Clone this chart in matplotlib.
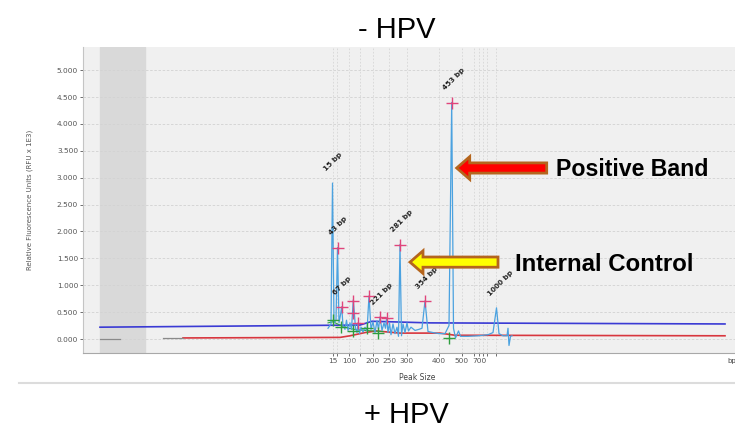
import matplotlib
matplotlib.use("Agg")
import matplotlib.pyplot as plt
from matplotlib.patches import FancyArrow

# size ladder (scan position -> bp label), "" = unlabeled tick
ladder_pos = [250, 254, 266, 277, 290, 306, 324, 356, 379, 391, 396, 400, 404, 413]
ladder_lbl = ["15", "", "100", "", "200", "250", "300", "400", "500", "", "700", "", "", ""]

# called peaks
called_lbl = ["15 bp", "43 bp", "67 bp", "221 bp", "281 bp", "354 bp", "453 bp", "1000 bp"]
called_pos = [249.5, 254.5, 258.7, 297, 317, 342, 368.7, 413.5]
called_rfu = [2.90, 1.70, 0.60, 0.41, 1.76, 0.71, 4.40, 0.58]

# uncalled peaks in the sample trace
extra_pos = [270.3, 286, 303.7]
extra_rfu = [0.73, 0.80, 0.40]

# sample trace baseline/noise points between peaks
noise_pos = [245, 248, 251, 253, 256, 257.5, 260, 262, 263.5, 265, 267, 268.5, 271.5,
             272.5, 274, 275, 276.5, 278, 280, 282, 284, 288, 290, 292, 294, 295.5,
             299, 301, 302.5, 305, 306.5, 308, 310, 312, 314, 315.5, 318.5, 320, 322,
             324, 325.5, 328, 332, 336, 339, 345, 350, 356, 362, 366, 370.5, 372.5,
             375.5, 377.5, 385, 395, 405, 410, 416, 420, 424, 425, 426, 427.5, 429]
noise_rfu = [0.20, 0.28, 0.30, 0.35, 0.30, 0.45, 0.25, 0.18, 0.35, 0.16, 0.30, 0.18, 0.45,
             0.20, 0.12, 0.30, 0.10, 0.22, 0.13, 0.22, 0.15, 0.18, 0.32, 0.12, 0.34, 0.18,
             0.16, 0.30, 0.20, 0.12, 0.30, 0.08, 0.28, 0.10, 0.22, 0.05, 0.06, 0.28, 0.12,
             0.30, 0.15, 0.22, 0.16, 0.18, 0.20, 0.14, 0.12, 0.10, 0.10, 0.25, 0.20, 0.02,
             0.15, 0.05, 0.05, 0.06, 0.08, 0.12, 0.10, 0.06, 0.06, 0.20, -0.12, 0.05, 0.06]

# peak markers
pink_pos = [254.5, 258.7, 270.3, 270.3, 275, 286, 297, 303.7, 317, 342, 368.7]
pink_rfu = [1.70, 0.60, 0.71, 0.49, 0.30, 0.80, 0.41, 0.39, 1.75, 0.71, 4.39]
green_pos = [250, 258, 270, 284, 295, 366]
green_rfu = [0.35, 0.23, 0.15, 0.20, 0.12, 0.02]

# green channel trace
green_trace_pos = [245, 250, 258, 265, 275, 290, 300]
green_trace_rfu = [0.30, 0.32, 0.25, 0.20, 0.17, 0.15, 0.14]

# baselines
blue_pos = [17, 277, 289, 347, 642]
blue_rfu = [0.22, 0.26, 0.33, 0.30, 0.28]
red_pos = [100, 257, 267, 282, 293, 317, 357, 372, 642]
red_rfu = [0.02, 0.03, 0.06, 0.12, 0.15, 0.11, 0.11, 0.07, 0.06]
gray_pos = [[17, 37], [80, 100]]
gray_rfu = [[0.0, 0.0], [0.02, 0.02]]

W, H = 735, 433
fig = plt.figure(figsize=(W / 100, H / 100), dpi=100)
ax = fig.add_axes([83 / W, 1 - 353 / H, (W - 83) / W, (353 - 47) / H])
ax.set_facecolor("#f0f0f0")
ax.set_xlim(0, 652)
ax.set_ylim(-0.26, 5.43)

ax.axvspan(17, 62, color="#d9d9d9", zorder=0)

# grid
yt = [i * 0.5 for i in range(11)]
for v in yt:
    ax.axhline(v, color="#d2d2d2", lw=0.6, ls=(0, (3, 2)), zorder=0.5)
for p in ladder_pos:
    ax.axvline(p, color="#d6d6d6", lw=0.6, ls=(0, (2, 2)), zorder=0.5)

# traces
trace = sorted(zip(noise_pos + called_pos + extra_pos, noise_rfu + called_rfu + extra_rfu))
ax.plot([t[0] for t in trace], [t[1] for t in trace], color="#4ba2e0", lw=0.9, zorder=3)
ax.plot(green_trace_pos, green_trace_rfu, color="#2ea043", lw=0.8, zorder=2.5)
ax.plot(blue_pos, blue_rfu, color="#3a3ad4", lw=1.2, zorder=2)
ax.plot(red_pos, red_rfu, color="#d8363e", lw=1.2, zorder=2)
for gx, gy in zip(gray_pos, gray_rfu):
    ax.plot(gx, gy, color="#8a8a8a", lw=0.9, zorder=2)

ax.plot(pink_pos, pink_rfu, ls="none", marker="+", ms=8, mew=1.0, color="#e0457b", zorder=4)
ax.plot(green_pos, green_rfu, ls="none", marker="+", ms=8, mew=1.0, color="#2e9e3e", zorder=4)

for lbl, p, r in zip(called_lbl, called_pos, called_rfu):
    ax.annotate(lbl, (p, r), xytext=(-4, 8), textcoords="offset points", rotation=45,
                rotation_mode="anchor", ha="left", va="bottom", fontsize=5.2,
                fontweight="bold", color="#222222", zorder=5)

# axes styling
ax.set_yticks(yt)
ax.set_yticklabels([f"{v:.3f}" for v in yt])
ax.set_xticks(ladder_pos)
ax.set_xticklabels(ladder_lbl)
ax.tick_params(axis="both", labelsize=5.3, colors="#555555", length=2, width=0.6, pad=1.5)
for s in ["top", "right"]:
    ax.spines[s].set_visible(False)
ax.spines["left"].set_color("#c4c4c4")
ax.spines["bottom"].set_color("#a8a8a8")
ax.set_ylabel("Relative Fluorescence Units (RFU x 1E3)", fontsize=5, color="#555555")
ax.yaxis.set_label_coords(-0.077, 0.5)
ax.set_xlabel("Peak Size", fontsize=5.5, color="#444444")
ax.xaxis.set_label_coords(334 / 652, -0.065)
fig.text(727 / W, 1 - 361 / H, "bp", fontsize=5, color="#444444", ha="left", va="center")

# arrows pointing at the positive band and the internal control
def arrow(tip_x, tip_y, length, color):
    ax.add_patch(FancyArrow(tip_x + length, tip_y, -length, 0, width=0.19,
                            head_width=0.42, head_length=13, length_includes_head=True,
                            facecolor=color, edgecolor="#b5651d", lw=2, zorder=6))

arrow(called_pos[6] + 5, 3.18, 90, "#ff0000")
arrow(called_pos[4] + 10, 1.43, 88, "#ffff00")

fig.text(556 / W, 1 - 176 / H, "Positive Band", fontsize=16.7, fontweight="bold",
         family="Liberation Sans", ha="left", va="baseline")
fig.text(515 / W, 1 - 271 / H, "Internal Control", fontsize=17.3, fontweight="bold",
         family="Liberation Sans", ha="left", va="baseline")

fig.text(397 / W, 1 - 38 / H, "- HPV", fontsize=21, family="Liberation Sans",
         ha="center", va="baseline")
fig.text(406 / W, 1 - 423 / H, "+ HPV", fontsize=21, family="Liberation Sans",
         ha="center", va="baseline")
fig.add_artist(plt.Line2D([19 / W, 1], [1 - 383 / H] * 2, color="#dcdcdc", lw=1.5))

fig.savefig("out.png", dpi=100, facecolor="white")
